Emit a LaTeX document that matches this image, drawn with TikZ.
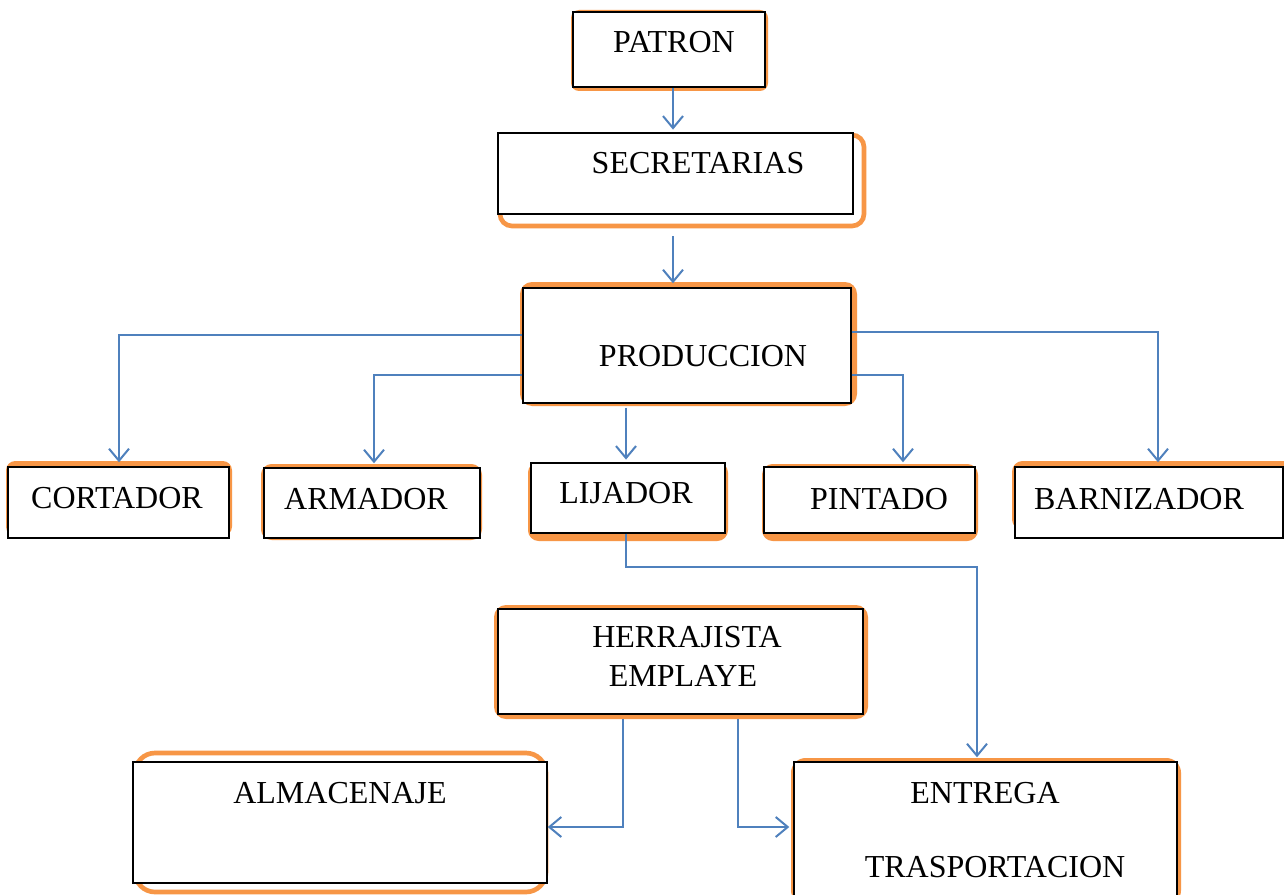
\documentclass[tikz,border=0pt]{standalone}
\usepackage{fontspec}
\setmainfont{Liberation Serif}
\usetikzlibrary{arrows.meta,fit}
\definecolor{accent}{HTML}{F79646}
\definecolor{link}{HTML}{4F81BD}
\tikzset{
  box/.style={draw=black, fill=white, line width=1.1pt, inner sep=0pt},
  lbl/.style={anchor=base, inner sep=0pt, font=\fontsize{24}{28}\selectfont},
  glow/.style={fill=accent},
  ring/.style={draw=accent, fill=white, line width=3.5pt},
  arr/.style={draw=link, line width=1.5pt, -{Straight Barb[length=9pt,width=15pt]}},
}
\begin{document}
\begin{tikzpicture}[x=0.75pt,y=-0.75pt]
\clip (0,0) rectangle (1284,895);
\fill[white] (0,0) rectangle (1284,895);

% orange frames behind the boxes
\path[glow, rounded corners=6pt]  (571,10) rectangle (768,91);
\path[ring, rounded corners=9pt]  (500,135) rectangle (864,226);
\path[glow, rounded corners=9pt]  (520,282) rectangle (857,406);
\path[glow, rounded corners=7pt]  (6,461) rectangle (232,536);
\path[glow, rounded corners=8pt]  (261,464) rectangle (482,540);
\path[glow, rounded corners=8pt]  (528,462) rectangle (728,541);
\path[glow, rounded corners=8pt]  (762,464) rectangle (978,541);
\path[glow, rounded corners=8pt]  (1012,461) rectangle (1295,530);
\path[glow, rounded corners=9pt]  (494,605) rectangle (868,719);
\path[ring, rounded corners=15pt] (135,753) rectangle (546,892);
\path[glow, rounded corners=11pt] (791,758) rectangle (1181,905);

% boxes
\node[box, fit={(573,12) (765,87)}]    (patron) {};
\node[box, fit={(498,133) (853,214)}]  (secretarias) {};
\node[box, fit={(523,288) (851,403)}]  (produccion) {};
\node[box, fit={(8,467) (229,538)}]    (cortador) {};
\node[box, fit={(264,468) (480,538)}]  (armador) {};
\node[box, fit={(531,463) (725,533)}]  (lijador) {};
\node[box, fit={(764,467) (975,533)}]  (pintado) {};
\node[box, fit={(1015,467) (1283,538)}] (barnizador) {};
\node[box, fit={(498,609) (863,714)}]  (herrajista) {};
\node[box, fit={(133,762) (547,883)}]  (almacenaje) {};
\node[box, fit={(794,762) (1177,910)}] (entrega) {};

% labels
\node[lbl] (t-patron)      at (674,53)  {PATRON};
\node[lbl] (t-secretarias) at (698,173) {SECRETARIAS};
\node[lbl] (t-produccion)  at (703,366) {PRODUCCION};
\node[lbl] (t-cortador)    at (117,508) {CORTADOR};
\node[lbl] (t-armador)     at (366,509) {ARMADOR};
\node[lbl] (t-lijador)     at (626,503) {LIJADOR};
\node[lbl] (t-pintado)     at (879,509) {PINTADO};
\node[lbl] (t-barnizador)  at (1139,509) {BARNIZADOR};
\node[lbl] (t-herrajista)  at (687,647) {HERRAJISTA};
\node[lbl] (t-emplaye)     at (683,686) {EMPLAYE};
\node[lbl] (t-almacenaje)  at (340,803) {ALMACENAJE};
\node[lbl] (t-entrega)     at (985,803) {ENTREGA};
\node[lbl] (t-trasporte)   at (995,877) {TRASPORTACION};

% connectors
\draw[arr, shorten >=2pt] (673,0 |- patron.south) -- (673,0 |- secretarias.north);
\draw[arr, shorten <=16pt, shorten >=3pt] (673,0 |- secretarias.south) -- (673,0 |- produccion.north);
\draw[arr, shorten >=3pt] (produccion.west |- 0,335) -| (119,0 |- cortador.north);
\draw[arr, shorten >=3pt] (produccion.west |- 0,375) -| (374,0 |- armador.north);
\draw[arr, shorten <=3pt, shorten >=2pt] (626,0 |- produccion.south) -- (626,0 |- lijador.north);
\draw[arr, shorten >=3pt] (produccion.east |- 0,375) -| (903,0 |- pintado.north);
\draw[arr, shorten >=3pt] (produccion.east |- 0,332) -| (1158,0 |- barnizador.north);
\coordinate (bend) at (977,567);
\draw[arr, shorten >=3pt] (626,0 |- lijador.south) |- (bend) -- (977,0 |- entrega.north);
\draw[arr, shorten <=3pt] (623,0 |- herrajista.south) |- (almacenaje.east |- 0,827);
\draw[arr, shorten <=3pt, shorten >=3pt] (738,0 |- herrajista.south) |- (entrega.west |- 0,827);
\end{tikzpicture}
\end{document}
